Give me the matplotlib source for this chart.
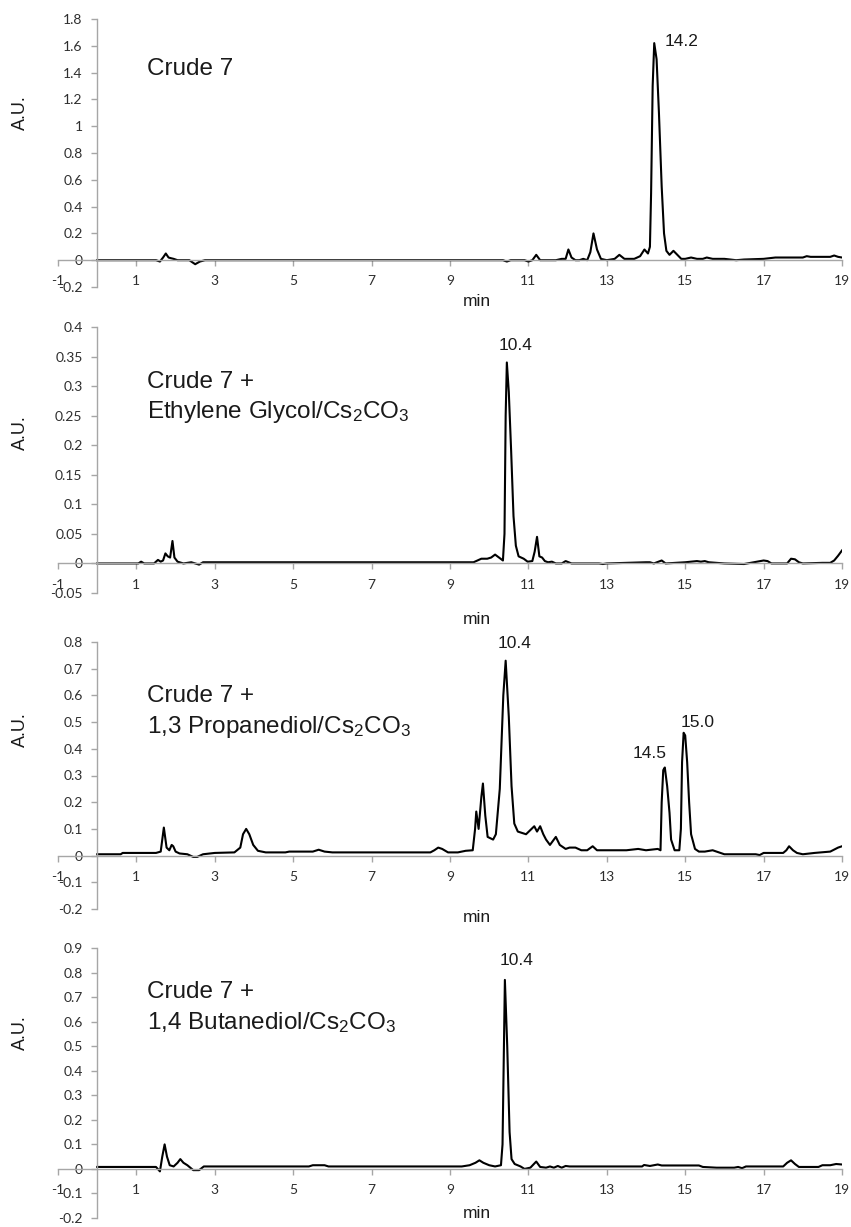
import numpy as np
import matplotlib
matplotlib.use("Agg")
import matplotlib.pyplot as plt
from matplotlib.ticker import FuncFormatter

plt.rcParams['axes.unicode_minus'] = False
plt.rcParams['mathtext.fontset'] = 'custom'
plt.rcParams['mathtext.rm'] = 'Liberation Sans'
plt.rcParams['mathtext.it'] = 'Liberation Sans:italic'
plt.rcParams['mathtext.default'] = 'regular'

# ---------------- data ----------------
x_ticks = [-1, 1, 3, 5, 7, 9, 11, 13, 15, 17, 19]

# Panel 1: Crude 7
t1 = [0.00, 1.50, 1.60, 1.68, 1.75,
      1.82, 1.88, 1.95, 2.05, 2.35,
      2.50, 2.62, 2.75, 10.35, 10.45,
      10.55, 10.90, 11.00, 11.10, 11.20,
      11.30, 11.70, 11.85, 11.95, 12.02,
      12.10, 12.20, 12.30, 12.40, 12.50,
      12.58, 12.66, 12.75, 12.85, 13.00,
      13.20, 13.32, 13.45, 13.55, 13.70,
      13.85, 13.96, 14.05, 14.10, 14.13,
      14.17, 14.21, 14.27, 14.33, 14.40,
      14.46, 14.52, 14.60, 14.70, 14.80,
      14.90, 15.00, 15.15, 15.30, 15.45,
      15.55, 15.70, 16.00, 16.30, 16.50,
      17.00, 17.30, 18.00, 18.10, 18.20,
      18.70, 18.80, 18.90, 19.00]
a1 = [0.000, 0.000, -0.010, 0.020, 0.050,
      0.020, 0.015, 0.010, 0.000, 0.000,
      -0.030, -0.010, 0.000, 0.000, -0.010,
      0.000, 0.000, -0.010, 0.000, 0.040,
      0.000, 0.000, 0.010, 0.010, 0.080,
      0.020, 0.000, 0.000, 0.010, 0.000,
      0.060, 0.200, 0.080, 0.010, 0.000,
      0.010, 0.040, 0.010, 0.010, 0.010,
      0.030, 0.080, 0.050, 0.100, 0.500,
      1.300, 1.620, 1.500, 1.100, 0.550,
      0.200, 0.070, 0.040, 0.070, 0.040,
      0.010, 0.010, 0.020, 0.010, 0.010,
      0.020, 0.010, 0.010, 0.000, 0.005,
      0.010, 0.020, 0.020, 0.030, 0.025,
      0.025, 0.035, 0.025, 0.020]

# Panel 2: Crude 7 + Ethylene Glycol/Cs2CO3
t2 = [0.00, 1.05, 1.12, 1.20, 1.45,
      1.55, 1.62, 1.68, 1.74, 1.80,
      1.86, 1.92, 1.97, 2.05, 2.20,
      2.40, 2.60, 2.70, 9.60, 9.80,
      9.95, 10.05, 10.15, 10.25, 10.35,
      10.39, 10.42, 10.45, 10.50, 10.56,
      10.62, 10.68, 10.75, 10.88, 10.98,
      11.10, 11.16, 11.22, 11.28, 11.35,
      11.42, 11.50, 11.60, 11.70, 11.85,
      11.95, 12.10, 12.80, 12.90, 13.00,
      14.00, 14.10, 14.20, 14.40, 14.50,
      15.00, 15.30, 15.40, 15.50, 15.60,
      16.00, 16.50, 17.00, 17.10, 17.20,
      17.60, 17.70, 17.80, 17.90, 18.00,
      18.50, 18.70, 18.80, 18.90, 19.00]
a2 = [0.000, 0.000, 0.003, 0.000, 0.000,
      0.006, 0.003, 0.005, 0.017, 0.012,
      0.010, 0.038, 0.010, 0.003, 0.000,
      0.002, -0.002, 0.002, 0.002, 0.008,
      0.008, 0.010, 0.015, 0.010, 0.005,
      0.050, 0.250, 0.340, 0.290, 0.190,
      0.080, 0.030, 0.012, 0.008, 0.003,
      0.004, 0.020, 0.045, 0.012, 0.010,
      0.004, 0.002, 0.003, 0.000, 0.000,
      0.004, 0.000, 0.000, -0.001, 0.000,
      0.002, 0.002, 0.000, 0.005, 0.000,
      0.002, 0.004, 0.003, 0.004, 0.002,
      0.000, -0.001, 0.005, 0.004, 0.000,
      0.000, 0.008, 0.007, 0.002, 0.000,
      0.001, 0.001, 0.005, 0.013, 0.022]

# Panel 3: Crude 7 + 1,3 Propanediol/Cs2CO3
t3 = [0.00, 0.60, 0.65, 1.50, 1.62,
      1.70, 1.77, 1.84, 1.90, 1.94,
      2.00, 2.10, 2.30, 2.45, 2.55,
      2.70, 3.00, 3.50, 3.65, 3.72,
      3.80, 3.88, 3.98, 4.10, 4.30,
      4.80, 4.90, 5.10, 5.50, 5.65,
      5.80, 6.00, 8.50, 8.60, 8.70,
      8.80, 8.95, 9.20, 9.40, 9.58,
      9.64, 9.67, 9.73, 9.80, 9.84,
      9.90, 9.96, 10.10, 10.17, 10.27,
      10.36, 10.42, 10.50, 10.57, 10.64,
      10.73, 10.94, 11.08, 11.15, 11.22,
      11.30, 11.38, 11.45, 11.55, 11.65,
      11.70, 11.80, 11.95, 12.05, 12.20,
      12.35, 12.50, 12.64, 12.75, 12.90,
      13.50, 13.80, 14.00, 14.30, 14.37,
      14.40, 14.44, 14.48, 14.54, 14.60,
      14.64, 14.73, 14.85, 14.89, 14.92,
      14.96, 15.00, 15.05, 15.10, 15.15,
      15.25, 15.35, 15.50, 15.70, 15.90,
      16.00, 16.50, 16.80, 16.90, 17.00,
      17.50, 17.58, 17.65, 17.75, 17.85,
      18.00, 18.30, 18.70, 18.90, 19.00]
a3 = [0.005, 0.005, 0.010, 0.010, 0.015,
      0.105, 0.030, 0.020, 0.040, 0.035,
      0.015, 0.008, 0.005, -0.005, -0.005,
      0.005, 0.010, 0.012, 0.030, 0.080,
      0.100, 0.080, 0.040, 0.018, 0.012,
      0.012, 0.015, 0.015, 0.015, 0.022,
      0.015, 0.012, 0.012, 0.020, 0.030,
      0.025, 0.012, 0.012, 0.018, 0.020,
      0.100, 0.165, 0.100, 0.220, 0.270,
      0.150, 0.070, 0.060, 0.080, 0.250,
      0.600, 0.730, 0.520, 0.260, 0.120,
      0.090, 0.080, 0.100, 0.110, 0.090,
      0.110, 0.080, 0.060, 0.040, 0.060,
      0.070, 0.040, 0.025, 0.030, 0.030,
      0.020, 0.020, 0.035, 0.020, 0.020,
      0.020, 0.025, 0.020, 0.025, 0.020,
      0.200, 0.320, 0.330, 0.260, 0.160,
      0.060, 0.020, 0.020, 0.100, 0.350,
      0.460, 0.450, 0.350, 0.200, 0.080,
      0.025, 0.015, 0.015, 0.020, 0.010,
      0.005, 0.005, 0.005, 0.002, 0.010,
      0.010, 0.020, 0.035, 0.020, 0.010,
      0.005, 0.010, 0.015, 0.030, 0.035]

# Panel 4: Crude 7 + 1,4 Butanediol/Cs2CO3
t4 = [0.00, 1.50, 1.60, 1.66, 1.72,
      1.78, 1.85, 1.95, 2.05, 2.12,
      2.20, 2.30, 2.45, 2.60, 2.72,
      5.40, 5.50, 5.80, 5.90, 9.30,
      9.50, 9.65, 9.75, 9.85, 10.00,
      10.15, 10.30, 10.34, 10.40, 10.46,
      10.52, 10.57, 10.65, 10.80, 10.90,
      11.05, 11.20, 11.30, 11.45, 11.55,
      11.65, 11.75, 11.85, 11.95, 12.05,
      13.90, 13.95, 14.10, 14.30, 14.40,
      15.35, 15.45, 15.80, 16.25, 16.35,
      16.45, 16.55, 17.50, 17.60, 17.70,
      17.80, 17.90, 18.40, 18.50, 18.70,
      18.85, 19.00]
a4 = [0.008, 0.008, -0.010, 0.050, 0.100,
      0.050, 0.015, 0.010, 0.025, 0.040,
      0.025, 0.015, -0.005, -0.005, 0.010,
      0.010, 0.015, 0.015, 0.010, 0.010,
      0.015, 0.025, 0.035, 0.025, 0.015,
      0.010, 0.015, 0.100, 0.770, 0.500,
      0.150, 0.040, 0.020, 0.010, 0.000,
      0.005, 0.030, 0.008, 0.005, 0.010,
      0.005, 0.012, 0.005, 0.012, 0.010,
      0.010, 0.016, 0.012, 0.018, 0.014,
      0.014, 0.008, 0.005, 0.005, 0.008,
      0.003, 0.010, 0.010, 0.025, 0.035,
      0.020, 0.008, 0.008, 0.015, 0.015,
      0.020, 0.018]

times = [t1, t2, t3, t4]
signals = [a1, a2, a3, a4]
y_limits = [(-0.2, 1.8), (-0.05, 0.4), (-0.2, 0.8), (-0.2, 0.9)]
y_steps = [0.2, 0.05, 0.1, 0.1]
sample_lines = [
    ["Crude 7"],
    ["Crude 7 +", r"Ethylene Glycol/Cs$_2$CO$_3$"],
    ["Crude 7 +", r"1,3 Propanediol/Cs$_2$CO$_3$"],
    ["Crude 7 +", r"1,4 Butanediol/Cs$_2$CO$_3$"],
]
peak_labels = [
    [("14.2", 14.47, 1.60, 'left')],
    [("10.4", 10.67, 0.361, 'center')],
    [("10.4", 10.65, 0.778, 'center'), ("14.5", 14.09, 0.366, 'center'),
     ("15.0", 15.31, 0.482, 'center')],
    [("10.4", 10.70, 0.830, 'center')],
]

# ---------------- layout (pixels) ----------------
W, H = 851, 1227
panel_px = [(19, 287), (327, 593), (642, 909), (948, 1218)]
sample_y = [[1.38], [0.296, 0.246], [0.576, 0.46], [0.698, 0.571]]
au_y_px = [113, 433, 730, 1033]
min_y_px = [302, 620, 918, 1214]

fig = plt.figure(figsize=(W / 100, H / 100), dpi=100)
spine_col = '#a6a6a6'
tick_txt = '#2e2e2e'

def fmt(v, p):
    if abs(v) < 1e-9:
        return '0'
    return '%g' % round(v, 4)

for i in range(4):
    top, bot = panel_px[i]
    ax = fig.add_axes([58 / W, 1 - bot / H, 784 / W, (bot - top) / H])
    ax.plot(times[i], signals[i], color='black', lw=1.5, solid_joinstyle='round')
    ax.set_xlim(-1, 19)
    lo, hi = y_limits[i]
    ax.set_ylim(lo, hi)
    n = int(round((hi - lo) / y_steps[i]))
    ax.set_yticks(np.linspace(lo, hi, n + 1))
    ax.set_xticks(x_ticks)
    ax.yaxis.set_major_formatter(FuncFormatter(fmt))
    ax.xaxis.set_major_formatter(FuncFormatter(lambda v, p: '%d' % v))
    for s in ['top', 'right']:
        ax.spines[s].set_visible(False)
    ax.spines['left'].set_position(('data', 0))
    ax.spines['bottom'].set_position(('data', 0))
    for s in ['left', 'bottom']:
        ax.spines[s].set_color(spine_col)
        ax.spines[s].set_linewidth(1.0)
    ax.tick_params(axis='y', direction='out', length=4.5, width=1.0, color=spine_col,
                   pad=6.0, labelsize=10, labelcolor=tick_txt)
    ax.tick_params(axis='x', direction='out', length=4, width=1.0, color=spine_col,
                   pad=7.0, labelsize=10, labelcolor=tick_txt)
    for lab in ax.get_xticklabels() + ax.get_yticklabels():
        lab.set_fontfamily('Lato')
    ax.patch.set_alpha(0)

    for line, yy in zip(sample_lines[i], sample_y[i]):
        ax.text(1.28, yy, line, fontsize=17.5, family='Liberation Sans',
                color='#1a1a1a', ha='left', va='baseline')
    for txt, xx, yy, ha in peak_labels[i]:
        ax.text(xx, yy, txt, fontsize=12.5, family='Liberation Sans',
                color='#1a1a1a', ha=ha, va='baseline')

    fig.text(20 / W, 1 - au_y_px[i] / H, 'A.U.', rotation=90, fontsize=13,
             family='Liberation Sans', color='#1a1a1a', ha='center', va='center')
    fig.text(477 / W, 1 - min_y_px[i] / H, 'min', fontsize=12.5,
             family='Liberation Sans', color='#1a1a1a', ha='center', va='center')

fig.savefig('out.png', dpi=100)
